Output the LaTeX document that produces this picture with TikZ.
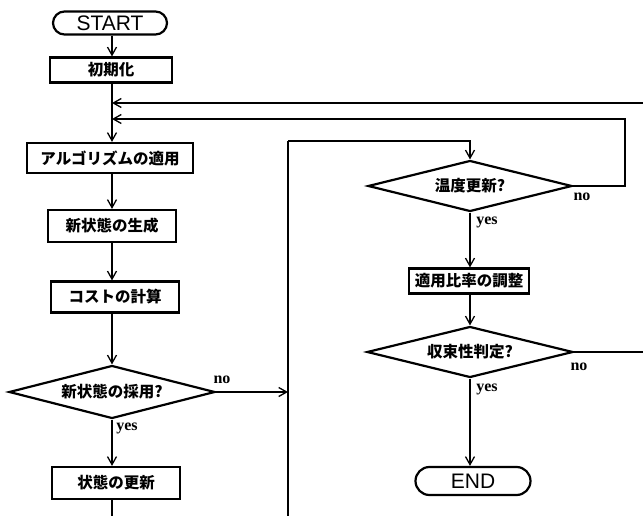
\documentclass[tikz,border=0pt]{standalone}
\usepackage{fontspec}
\usetikzlibrary{shapes.geometric,shapes.misc,arrows.meta}
\newfontfamily\jpfont{Noto Sans CJK JP}
\newfontfamily\termfont{Liberation Sans}
\newfontfamily\ynfont{Liberation Serif}
\begin{document}
\begin{tikzpicture}[x=1pt,y=-1pt,
  line width=1.6pt,
  arr/.style={-{Straight Barb[length=8pt,width=9pt,line width=1.3pt]}},
  box/.style={draw,line width=2.2pt,inner sep=0pt,font=\jpfont\bfseries\fontsize{15.5}{15.5}\selectfont},
  dia/.style={draw,diamond,aspect=4,line width=2.2pt,inner sep=0pt,font=\jpfont\bfseries\fontsize{15.5}{15.5}\selectfont},
  term/.style={draw,rounded rectangle,line width=2.2pt,inner sep=0pt,font=\termfont\fontsize{21}{21}\selectfont},
  yn/.style={font=\ynfont\bfseries\fontsize{16}{16}\selectfont,inner sep=0pt}]
\useasboundingbox (0,0) rectangle (643,516);

% left column
\node[term,minimum width=114,minimum height=23] (start) at (110,23) {START};
\node[box,minimum width=122,minimum height=25] (init) at (111,70) {初期化};
\node[box,minimum width=166,minimum height=30] (apply) at (110,158) {アルゴリズムの適用};
\node[box,minimum width=128,minimum height=32] (gen) at (112,226) {新状態の生成};
\node[box,minimum width=128,minimum height=31] (cost) at (115,297) {コストの計算};
\node[dia,minimum width=206,minimum height=53] (accept) at (112,392) {新状態の採用?};
\node[box,minimum width=128,minimum height=32] (upd) at (116,483) {状態の更新};

% right column
\node[dia,minimum width=204,minimum height=51] (temp) at (470,186) {温度更新?};
\node[box,minimum width=120,minimum height=25] (ratio) at (469,281) {適用比率の調整};
\node[dia,minimum width=206,minimum height=51] (conv) at (470,352) {収束性判定?};
\node[term,minimum width=115,minimum height=28] (endn) at (473,481) {END};

% labels
\node[yn] (n1) at (222,380) {no};
\node[yn] (y1) at (127,428) {yes};
\node[yn] (n2) at (582,197) {no};
\node[yn] (y2) at (487,222) {yes};
\node[yn] (n3) at (579,367) {no};
\node[yn] (y3) at (487,389) {yes};

% junction coordinates
\coordinate (j1) at (112,103);
\coordinate (j2) at (112,119);
\coordinate (rt) at (652,352);
\coordinate (tt) at (625,119);
\coordinate (k) at (288,392);
\coordinate (kb) at (288,530);
\coordinate (kt) at (288,141);
\coordinate (ub) at (112,530);

% main flow (left column on x = 112)
\draw[arr] (start.south -| j1) -- (init.north -| j1);
\draw[arr] (init.south -| j1) -- (apply.north -| j1);
\draw[arr] (apply.south -| j1) -- (gen.north -| j1);
\draw[arr] (gen.south -| j1) -- (cost.north -| j1);
\draw[arr] (cost.south -| j1) -- (accept.north);
\draw[arr] (accept.south) -- (upd.north -| j1);
\draw (upd.south -| ub) -- (ub);

% no branch of accept
\draw[arr] (accept.east) -- (k);
\draw (kb) -- (kt);
\draw[arr] (kt) -| (temp.north);

% right flow
\draw[arr] (temp.south) -- (ratio.north -| temp.south);
\draw[arr] (ratio.south -| conv.north) -- (conv.north);
\draw[arr] (conv.south) -- (endn.north -| conv.south);

% feedback loops
\draw[arr] (temp.east) -| (tt) -- (j2);
\draw[arr] (conv.east) -- (rt) |- (j1);
\end{tikzpicture}
\end{document}
